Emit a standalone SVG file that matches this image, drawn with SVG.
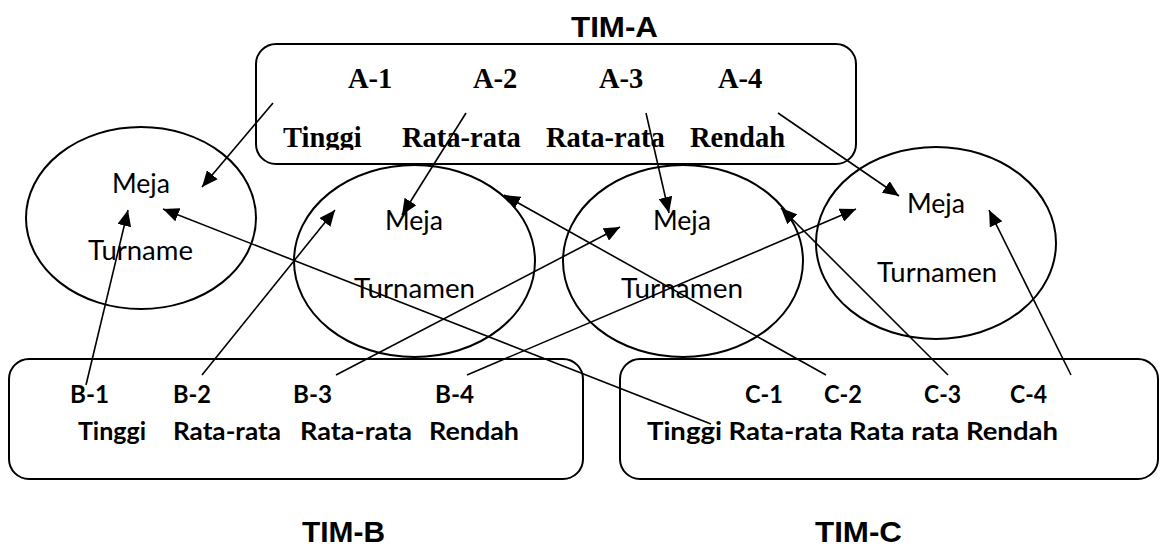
<svg xmlns="http://www.w3.org/2000/svg" width="1160" height="547" viewBox="0 0 1160 547">
<style>
.box{fill:none;stroke:#000;stroke-width:2}
.ell{fill:none;stroke:#000;stroke-width:2}
.tim{font-family:"Liberation Sans",Arial,sans-serif;font-weight:bold;font-size:30px;fill:#000}
.ta{font-family:"Liberation Serif","Times New Roman",serif;font-weight:bold;font-size:28.5px;fill:#000}
.tb{font-family:Lato,"Open Sans",sans-serif;font-weight:bold;font-size:25px;fill:#000}
.tm{font-family:Lato,"Open Sans",sans-serif;font-size:26px;fill:#000}
.con line{stroke:#000;stroke-width:1.6;marker-end:url(#arr)}
</style>
<defs>
<marker id="arr" markerUnits="userSpaceOnUse" markerWidth="17" markerHeight="14" refX="16" refY="7" orient="auto">
<path d="M0,0 L16,7 L0,14 z" fill="#000"/>
</marker>
<clipPath id="clipA"><rect x="256" y="44" width="600" height="106"/></clipPath>
</defs>
<rect width="1160" height="547" fill="#fff"/>

<g id="timA">
<text class="tim" x="571" y="37" textLength="87" lengthAdjust="spacingAndGlyphs">TIM-A</text>
<rect class="box" x="256" y="44" width="600" height="120" rx="20"/>
<text class="ta" x="348" y="88">A-1</text>
<text class="ta" x="473" y="88">A-2</text>
<text class="ta" x="599" y="88">A-3</text>
<text class="ta" x="718" y="88">A-4</text>
<g clip-path="url(#clipA)">
<text class="ta" x="283" y="147">Tinggi</text>
<text class="ta" x="402" y="147">Rata-rata</text>
<text class="ta" x="546" y="147">Rata-rata</text>
<text class="ta" x="690" y="147">Rendah</text>
</g>
</g>

<g id="meja1">
<ellipse class="ell" cx="141" cy="218" rx="115" ry="91"/>
<text class="tm" x="112" y="193" textLength="58" lengthAdjust="spacingAndGlyphs">Meja</text>
<text class="tm" x="88" y="260" textLength="105" lengthAdjust="spacingAndGlyphs">Turname</text>
</g>
<g id="meja2">
<ellipse class="ell" cx="414.5" cy="261" rx="120.5" ry="96"/>
<text class="tm" x="385" y="230" textLength="58" lengthAdjust="spacingAndGlyphs">Meja</text>
<text class="tm" x="354" y="298" textLength="121" lengthAdjust="spacingAndGlyphs">Turnamen</text>
</g>
<g id="meja3">
<ellipse class="ell" cx="683" cy="261" rx="120" ry="96"/>
<text class="tm" x="653" y="230" textLength="58" lengthAdjust="spacingAndGlyphs">Meja</text>
<text class="tm" x="621" y="298" textLength="122" lengthAdjust="spacingAndGlyphs">Turnamen</text>
</g>
<g id="meja4">
<ellipse class="ell" cx="936" cy="243" rx="120" ry="96"/>
<text class="tm" x="907" y="213" textLength="58" lengthAdjust="spacingAndGlyphs">Meja</text>
<text class="tm" x="877" y="282" textLength="120" lengthAdjust="spacingAndGlyphs">Turnamen</text>
</g>

<g id="timB">
<rect class="box" x="9" y="359" width="574" height="120" rx="20"/>
<text class="tb" x="70" y="403" textLength="39" lengthAdjust="spacingAndGlyphs">B-1</text>
<text class="tb" x="173" y="403" textLength="38" lengthAdjust="spacingAndGlyphs">B-2</text>
<text class="tb" x="293" y="403" textLength="39" lengthAdjust="spacingAndGlyphs">B-3</text>
<text class="tb" x="435" y="403" textLength="39" lengthAdjust="spacingAndGlyphs">B-4</text>
<text class="tb" x="78" y="440" textLength="68" lengthAdjust="spacingAndGlyphs">Tinggi</text>
<text class="tb" x="173" y="440" textLength="108" lengthAdjust="spacingAndGlyphs">Rata-rata</text>
<text class="tb" x="300" y="440" textLength="112" lengthAdjust="spacingAndGlyphs">Rata-rata</text>
<text class="tb" x="429" y="440" textLength="90" lengthAdjust="spacingAndGlyphs">Rendah</text>
<text class="tim" x="302" y="542" textLength="83" lengthAdjust="spacingAndGlyphs">TIM-B</text>
</g>

<g id="timC">
<rect class="box" x="620" y="359" width="538" height="120" rx="20"/>
<text class="tb" x="745" y="403" textLength="38" lengthAdjust="spacingAndGlyphs">C-1</text>
<text class="tb" x="824" y="403" textLength="38" lengthAdjust="spacingAndGlyphs">C-2</text>
<text class="tb" x="924" y="403" textLength="37" lengthAdjust="spacingAndGlyphs">C-3</text>
<text class="tb" x="1010" y="403" textLength="37" lengthAdjust="spacingAndGlyphs">C-4</text>
<text class="tb" x="647" y="440" textLength="411" lengthAdjust="spacingAndGlyphs">Tinggi Rata-rata Rata rata Rendah</text>
<text class="tim" x="815" y="542" textLength="87" lengthAdjust="spacingAndGlyphs">TIM-C</text>
</g>

<g id="connectors" class="con">
<line x1="273" y1="103" x2="202" y2="187"/>
<line x1="466" y1="113" x2="402" y2="215"/>
<line x1="646" y1="113" x2="669" y2="213"/>
<line x1="778" y1="113" x2="899" y2="196"/>
<line x1="86" y1="385" x2="128" y2="210"/>
<line x1="202" y1="375" x2="335" y2="210"/>
<line x1="336" y1="375" x2="620" y2="227"/>
<line x1="467" y1="375" x2="856" y2="209"/>
<line x1="711" y1="424" x2="163" y2="209"/>
<line x1="826" y1="375" x2="504" y2="195"/>
<line x1="948" y1="375" x2="781" y2="208"/>
<line x1="1071" y1="375" x2="989" y2="210"/>
</g>
</svg>
